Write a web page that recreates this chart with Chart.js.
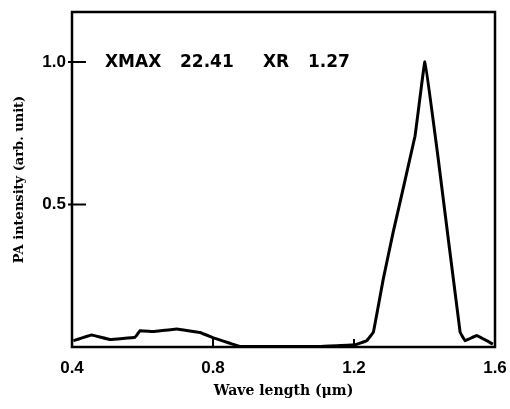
<!DOCTYPE html>
<html>
<head>
<meta charset="utf-8">
<script src="https://cdn.jsdelivr.net/npm/chart.js@4.4.1/dist/chart.umd.min.js"></script>
<style>
  html, body { margin: 0; padding: 0; background: #fff; }
  #wrap { width: 510px; height: 409px; }
</style>
</head>
<body>
<div id="wrap"><canvas id="chart" width="510" height="409"></canvas></div>
<script>
// values
var wavelength = [0.404, 0.456, 0.508, 0.579, 0.593, 0.631, 0.697, 0.763, 0.806, 0.848, 0.877, 1.0, 1.1, 1.203, 1.236, 1.255, 1.283, 1.311, 1.373, 1.401, 1.438, 1.501, 1.515, 1.548, 1.594];
var intensity = [0.022, 0.042, 0.026, 0.034, 0.057, 0.054, 0.063, 0.051, 0.030, 0.013, 0.002, 0.002, 0.002, 0.008, 0.022, 0.052, 0.238, 0.402, 0.739, 1.0, 0.669, 0.052, 0.022, 0.040, 0.010];
var xTicks = [0.4, 0.8, 1.2, 1.6];
var yTicks = [0.5, 1.0];
var noteText = ['XMAX', '22.41', 'XR', '1.27'];

var tickFont = { family: 'Liberation Sans', size: 17, weight: 'bold' };
var titleFont = { family: 'DejaVu Serif', size: 13, weight: 'bold' };

var points = wavelength.map(function(x, i) { return { x: x, y: intensity[i] }; });

// frame, inner tick marks and the XMAX / XR note
var framePlugin = {
    id: 'frame',
    afterDraw: function(chart) {
        var ctx = chart.ctx;
        var a = chart.chartArea;
        var xs = chart.scales.x;
        var ys = chart.scales.y;
        ctx.save();
        ctx.strokeStyle = '#000';
        ctx.lineWidth = 2.5;
        ctx.strokeRect(a.left, a.top, a.right - a.left, a.bottom - a.top);

        ctx.lineWidth = 2;
        ctx.beginPath();
        yTicks.forEach(function(v) {
            var py = ys.getPixelForValue(v);
            ctx.moveTo(a.left - 4, py);
            ctx.lineTo(a.left + 14, py);
        });
        [0.8, 1.2].forEach(function(v) {
            var px = xs.getPixelForValue(v);
            ctx.moveTo(px, a.bottom);
            ctx.lineTo(px, a.bottom - 8);
        });
        ctx.stroke();

        ctx.fillStyle = '#000';
        ctx.font = 'bold 17px "DejaVu Sans"';
        ctx.textBaseline = 'middle';
        var ny = ys.getPixelForValue(1.0) + 1;
        var nx = [105, 180, 263, 308];
        noteText.forEach(function(t, i) {
            ctx.fillText(t, nx[i], ny);
        });
        ctx.restore();
    }
};

var ctx = document.getElementById('chart').getContext('2d');
var chart = new Chart(ctx, {
    type: 'line',
    data: {
        datasets: [{
            data: points,
            borderColor: '#000',
            borderWidth: 3,
            pointRadius: 0,
            tension: 0.05,
            fill: false
        }]
    },
    options: {
        responsive: false,
        animation: false,
        layout: { padding: { top: 12, right: 15, left: 0, bottom: 0 } },
        plugins: {
            legend: { display: false },
            tooltip: { enabled: false }
        },
        scales: {
            x: {
                type: 'linear',
                min: 0.4,
                max: 1.6,
                afterBuildTicks: function(s) {
                    s.ticks = xTicks.map(function(v) { return { value: v }; });
                },
                afterFit: function(s) {
                    s.height = 62;
                    s.paddingLeft = 0;
                    s.paddingRight = 0;
                },
                grid: { display: false, drawTicks: false },
                border: { display: false },
                ticks: {
                    color: '#000',
                    font: tickFont,
                    padding: 11,
                    maxRotation: 0,
                    callback: function(v) { return v.toFixed(1); }
                },
                title: {
                    display: true,
                    text: 'Wave length (\u03bcm)',
                    color: '#000',
                    font: { family: 'DejaVu Serif', size: 14, weight: 'bold' },
                    padding: { top: 4, bottom: 9 }
                }
            },
            y: {
                min: 0,
                max: 1.175,
                afterBuildTicks: function(s) {
                    s.ticks = yTicks.map(function(v) { return { value: v }; });
                },
                afterFit: function(s) {
                    s.width = 72;
                    s.paddingTop = 0;
                    s.paddingBottom = 0;
                },
                grid: { display: false, drawTicks: false },
                border: { display: false },
                ticks: {
                    color: '#000',
                    font: tickFont,
                    padding: 6,
                    callback: function(v) { return v.toFixed(1); }
                },
                title: {
                    display: true,
                    text: 'PA intensity (arb. unit)',
                    color: '#000',
                    font: titleFont,
                    padding: { top: 12, bottom: 4 }
                }
            }
        }
    },
    plugins: [framePlugin]
});
</script>
</body>
</html>
